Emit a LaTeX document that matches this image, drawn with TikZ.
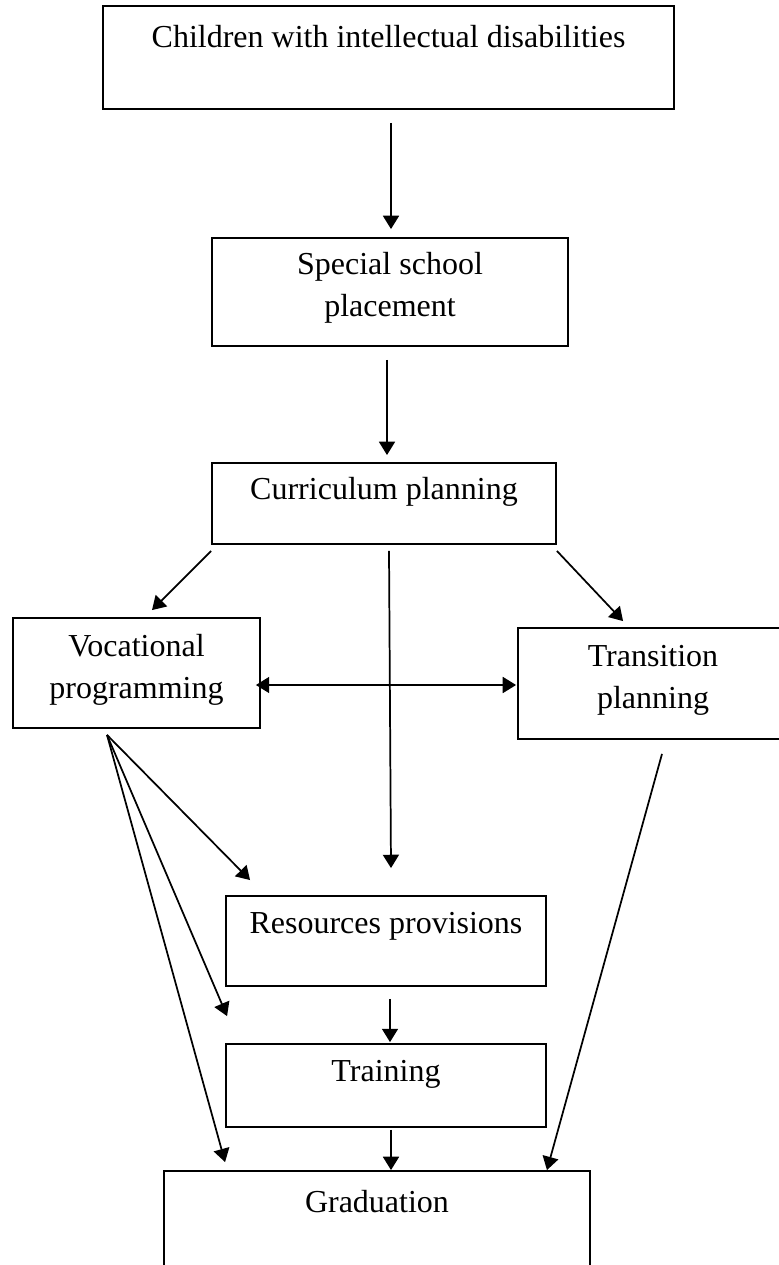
\documentclass[tikz,border=0pt]{standalone}
\usepackage{fontspec}
\setmainfont{Liberation Serif}
\usetikzlibrary{arrows.meta,positioning,calc}

\begin{document}
\begin{tikzpicture}[x=0.375pt,y=-0.375pt,
    box/.style={draw,line width=0.7pt,inner sep=0pt},
    txt/.style={font=\fontsize{12}{15.75}\selectfont,align=center,inner sep=0pt},
    arr/.style={-{Triangle[length=5pt,width=6pt]},line width=0.65pt},
    darr/.style={{Triangle[length=5pt,width=6pt]}-{Triangle[length=5pt,width=6pt]},line width=0.65pt}]
    \useasboundingbox (0,0) rectangle (779,1265);
    \clip (0,0) rectangle (779,1265);
    % boxes
    \node[box,minimum width=214.1pt,minimum height=38.6pt] (kids) at (388.5,57.5) {};
    \node[box,minimum width=133.5pt,minimum height=40.5pt] (place) at (390,292) {};
    \node[box,minimum width=129pt,minimum height=30.4pt] (curric) at (384,503.5) {};
    \node[box,minimum width=92.6pt,minimum height=41.25pt] (voc) at (136.5,673) {};
    \node[box,minimum width=101.25pt,minimum height=41.6pt] (trans) at (653,683.5) {};
    \node[box,minimum width=120pt,minimum height=33.75pt] (res) at (386,941) {};
    \node[box,minimum width=120pt,minimum height=31.1pt] (train) at (386,1085.5) {};
    \node[box,minimum width=159.75pt,minimum height=45pt] (grad) at (377,1231) {};
    % texts
    \node[txt] (kidsT) at ($(kids.north)+(0,31)$) {Children with intellectual disabilities};
    \node[txt] (placeT) at ($(place.north)+(0,51)$) {Special school\\placement};
    \node[txt] (curricT) at ($(curric.north)+(0,30)$) {Curriculum planning};
    \node[txt] (vocT) at ($(voc.north)+(0,53)$) {Vocational\\programming};
    \node[txt] (transT) at ($(trans.north)+(0,53)$) {Transition\\planning};
    \node[txt] (resT) at ($(res.north)+(0,31)$) {Resources provisions};
    \node[txt] (trainT) at ($(train.north)+(0,31)$) {Training};
    \node[txt] (gradT) at ($(grad.north)+(0,31)$) {Graduation};
    % arrows
    \draw[arr] ($(kids.south)+(2.5,13)$) -- ($(place.north)+(1,-8)$);
    \draw[arr] ($(place.south)+(-3,13)$) -- ($(curric.north)+(3,-7)$);
    \draw[arr] ($(curric.south west)+(0,6)$) -- ($(voc.north)+(15.5,-7)$);
    \draw[arr] ($(curric.south)+(5,6)$) -- ($(res.north)+(5,-27)$);
    \draw[arr] ($(curric.south east)+(0,6)$) -- ($(trans.north west)+(106,-6)$);
    \draw[darr] ($(voc.east)+(-5,12)$) -- ($(trans.west)+(-1,1.5)$);
    \coordinate (fan) at ($(voc.south)+(-29.5,6)$);
    \draw[arr] (fan) -- ($(res.north west)+(25,-15)$);
    \draw[arr] (fan) -- ($(train.north west)+(2,-27)$);
    \draw[arr] (fan) -- ($(grad.north west)+(62,-8)$);
    \draw[arr] ($(trans.south)+(9,14)$) -- ($(grad.north east)+(-44,0)$);
    \draw[arr] ($(res.south)+(4,12)$) -- ($(train.north)+(4,-1)$);
    \draw[arr] ($(train.south)+(5,2)$) -- ($(grad.north)+(14,0)$);
\end{tikzpicture}
\end{document}
